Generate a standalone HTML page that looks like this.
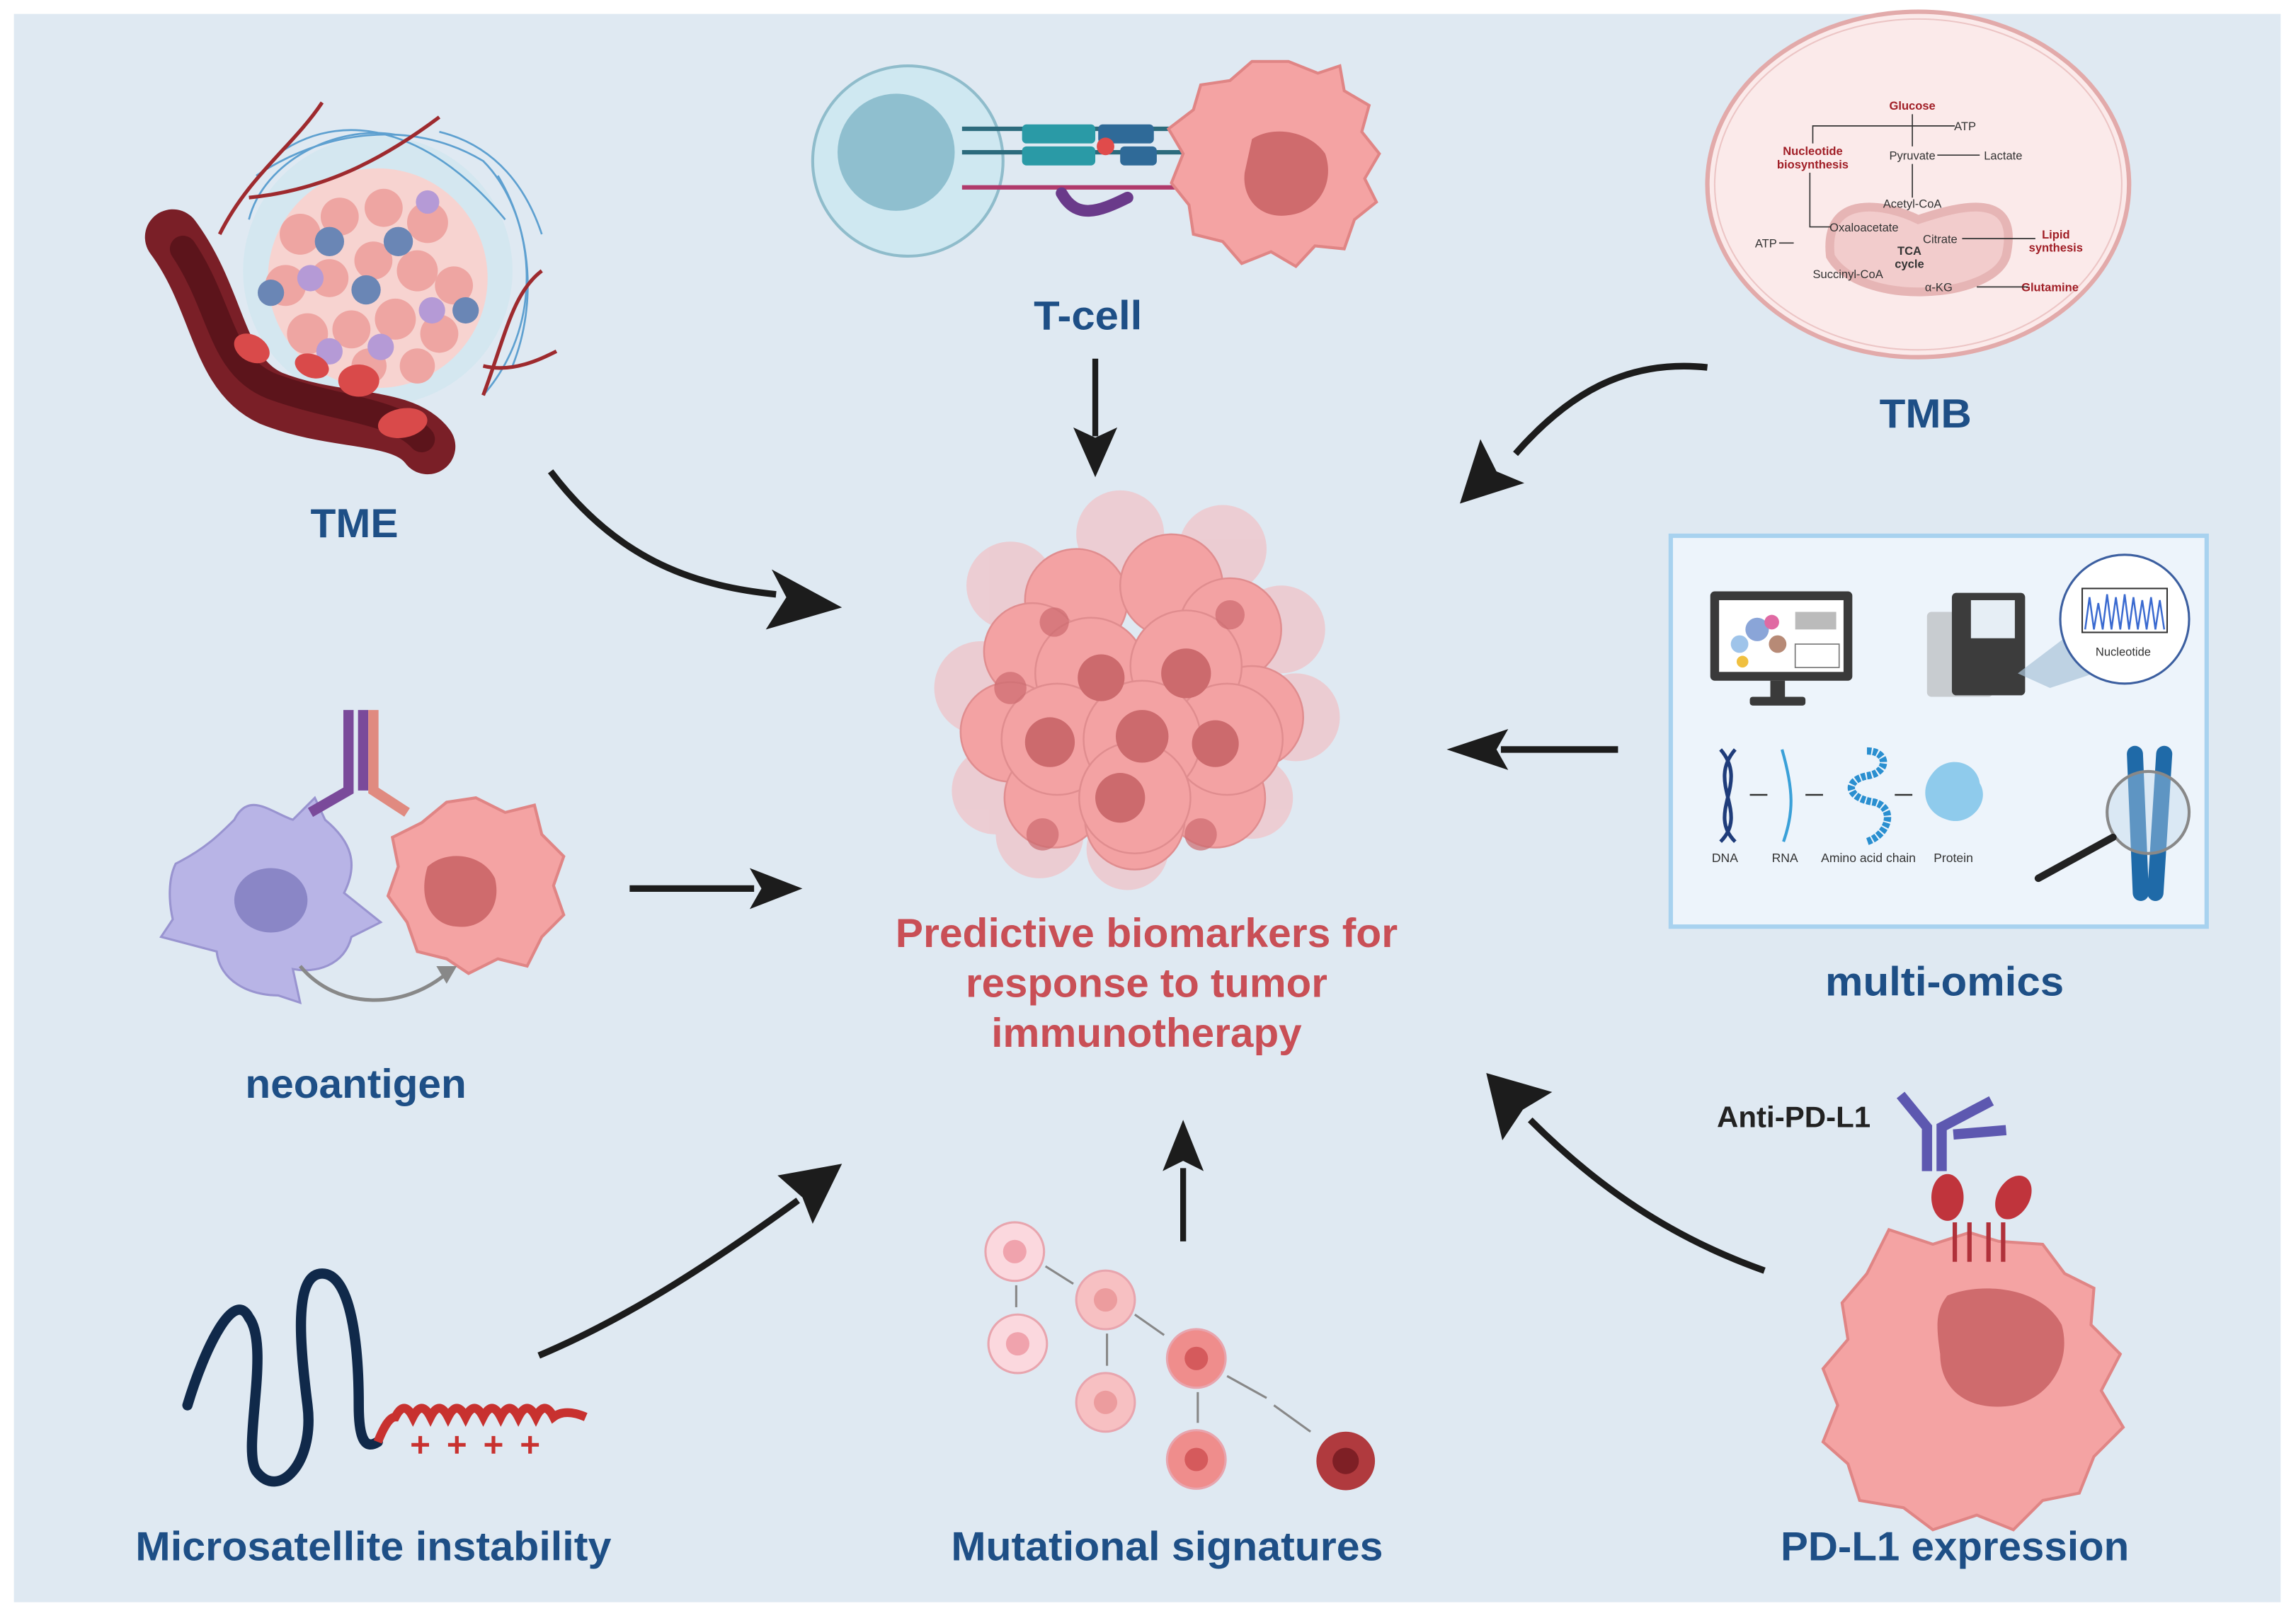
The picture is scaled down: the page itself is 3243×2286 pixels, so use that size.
<!DOCTYPE html>
<html><head><meta charset="utf-8"><style>
html,body{margin:0;padding:0;background:#fff}
svg{display:block}
text{font-family:"Liberation Sans",Arial,sans-serif}
</style></head><body>
<svg width="3243" height="2286" viewBox="0 0 1568 1105.3" preserveAspectRatio="none" xmlns="http://www.w3.org/2000/svg">
<rect x="0" y="0" width="1568" height="1106" fill="#fff"/>
<rect x="9.5" y="9.5" width="1548" height="1085" fill="#dfe9f2"/>

<!-- TME -->
<g>
<circle cx="258" cy="185" r="92" fill="#cfe6f0" opacity="0.7"/>
<g stroke="#3f8fc8" stroke-width="1.3" fill="none" opacity="0.8">
<path d="M175,120 C220,90 280,80 330,110 C360,140 370,200 350,250"/>
<path d="M190,105 C240,70 300,95 345,150"/>
<path d="M170,150 C180,110 230,85 270,92"/>
<path d="M340,120 C370,170 365,230 330,270"/>
<path d="M300,90 C340,100 360,130 370,160"/>
</g>
<circle cx="258" cy="190" r="75" fill="#f7d3d0"/>
<g fill="#eea5a2">
<circle cx="205" cy="160" r="14"/><circle cx="232" cy="148" r="13"/><circle cx="262" cy="142" r="13"/><circle cx="292" cy="152" r="14"/>
<circle cx="195" cy="195" r="14"/><circle cx="225" cy="190" r="13"/><circle cx="255" cy="178" r="13"/><circle cx="285" cy="185" r="14"/><circle cx="310" cy="195" r="13"/>
<circle cx="210" cy="228" r="14"/><circle cx="240" cy="225" r="13"/><circle cx="270" cy="218" r="14"/><circle cx="300" cy="228" r="13"/>
<circle cx="252" cy="250" r="12"/><circle cx="285" cy="250" r="12"/>
</g>
<g fill="#6a86b5"><circle cx="225" cy="165" r="10"/><circle cx="272" cy="165" r="10"/><circle cx="185" cy="200" r="9"/><circle cx="250" cy="198" r="10"/><circle cx="318" cy="212" r="9"/></g>
<g fill="#b59ad6"><circle cx="212" cy="190" r="9"/><circle cx="292" cy="138" r="8"/><circle cx="295" cy="212" r="9"/><circle cx="225" cy="240" r="9"/><circle cx="260" cy="237" r="9"/></g>
<g stroke="#9e2a2e" stroke-width="2.5" fill="none">
<path d="M150,160 C170,120 200,100 220,70"/><path d="M170,135 C220,130 260,110 300,80"/>
<path d="M330,270 C345,230 350,200 370,185"/><path d="M330,250 C350,255 370,245 380,240"/>
</g>
<path d="M118,162 C150,205 148,255 185,272 C230,290 275,282 292,305" stroke="#7a1f27" stroke-width="38" fill="none" stroke-linecap="round"/>
<path d="M125,170 C152,210 150,250 186,264 C230,280 270,280 288,300" stroke="#5c141b" stroke-width="18" fill="none" stroke-linecap="round"/>
<g fill="#d94a4a"><ellipse cx="172" cy="238" rx="13" ry="9" transform="rotate(30 172 238)"/><ellipse cx="213" cy="250" rx="12" ry="8" transform="rotate(20 213 250)"/><ellipse cx="245" cy="260" rx="14" ry="11"/><ellipse cx="275" cy="289" rx="17" ry="10" transform="rotate(-10 275 289)"/></g>
</g>
<text x="242" y="367" font-size="28" font-weight="bold" fill="#1e4f86" text-anchor="middle" textLength="60" lengthAdjust="spacingAndGlyphs">TME</text>

<!-- T-cell -->
<circle cx="620" cy="110" r="65" fill="#cfe8f1" stroke="#8fbccb" stroke-width="2"/>
<circle cx="612" cy="104" r="40" fill="#8fbfcf"/>
<line x1="657" y1="88" x2="820" y2="88" stroke="#2c6b7d" stroke-width="3"/>
<line x1="657" y1="104" x2="820" y2="104" stroke="#2c6b7d" stroke-width="3"/>
<rect x="698" y="85" width="50" height="13" rx="3" fill="#2a9aa6"/><rect x="698" y="100" width="50" height="13" rx="3" fill="#2a9aa6"/>
<rect x="750" y="85" width="38" height="13" rx="3" fill="#2f6a98"/><rect x="765" y="100" width="25" height="13" rx="3" fill="#2f6a98"/>
<circle cx="755" cy="100" r="6" fill="#e04b4b"/>
<line x1="657" y1="128" x2="820" y2="128" stroke="#b03a6b" stroke-width="3"/>
<path d="M725,132 C735,150 750,145 770,135" stroke="#6a3a8a" stroke-width="8" fill="none" stroke-linecap="round"/>
<path d="M880,42 L900,50 915,45 918,62 935,72 930,90 942,105 932,122 940,138 925,150 918,170 898,168 885,182 868,172 848,180 835,165 815,160 812,140 800,125 808,105 798,88 815,75 820,58 840,55 855,42 Z" fill="#f4a3a3" stroke="#e08585" stroke-width="2"/>
<path d="M855,95 C870,85 895,90 905,105 C912,125 900,145 880,147 C860,150 848,135 850,118 Z" fill="#cf6b6d"/>
<text x="743" y="225" font-size="28" font-weight="bold" fill="#1e4f86" text-anchor="middle" textLength="74" lengthAdjust="spacingAndGlyphs">T-cell</text>
<line x1="748" y1="245" x2="748" y2="298" stroke="#1c1c1c" stroke-width="4"/>
<polygon points="748,326 733,292 748,299 763,292" fill="#1c1c1c"/>

<!-- TMB -->
<ellipse cx="1310" cy="126" rx="144" ry="118" fill="#fbeaea" stroke="#e2aaaa" stroke-width="3"/>
<ellipse cx="1310" cy="126" rx="139" ry="113" fill="none" stroke="#ecc5c5" stroke-width="1"/>
<path d="M1250,175 C1245,130 1290,140 1310,150 C1340,140 1380,130 1370,175 C1360,205 1270,210 1250,175 Z" fill="#f2cccc" stroke="#e6b5b5" stroke-width="6"/>
<g font-size="8" fill="#333" text-anchor="middle">
<text x="1306" y="75" fill="#a01e26" font-weight="bold">Glucose</text>
<text x="1342" y="89">ATP</text>
<text x="1238" y="106" fill="#a01e26" font-weight="bold">Nucleotide</text>
<text x="1238" y="115" fill="#a01e26" font-weight="bold">biosynthesis</text>
<text x="1306" y="109">Pyruvate</text>
<text x="1368" y="109">Lactate</text>
<text x="1306" y="142">Acetyl-CoA</text>
<text x="1273" y="158">Oxaloacetate</text>
<text x="1325" y="166">Citrate</text>
<text x="1206" y="169">ATP</text>
<text x="1304" y="174" font-weight="bold">TCA</text>
<text x="1304" y="183" font-weight="bold">cycle</text>
<text x="1404" y="163" fill="#a01e26" font-weight="bold">Lipid</text>
<text x="1404" y="172" fill="#a01e26" font-weight="bold">synthesis</text>
<text x="1262" y="190">Succinyl-CoA</text>
<text x="1324" y="199">α-KG</text>
<text x="1400" y="199" fill="#a01e26" font-weight="bold">Glutamine</text>
</g>
<g stroke="#333" stroke-width="0.8" fill="none">
<path d="M1306,78 V100"/><path d="M1238,98 V86 H1335"/><path d="M1323,106 H1352"/><path d="M1306,112 V135"/>
<path d="M1340,163 H1390"/><path d="M1350,196 H1385"/><path d="M1236,118 V155 H1250"/><path d="M1215,166 H1225"/>
</g>
<text x="1315" y="292" font-size="28" font-weight="bold" fill="#1e4f86" text-anchor="middle" textLength="63" lengthAdjust="spacingAndGlyphs">TMB</text>
<path d="M1166,251 C1110,245 1070,270 1035,310" stroke="#1c1c1c" stroke-width="4.5" fill="none"/>
<polygon points="997,344 1011,300 1022,322 1041,330" fill="#1c1c1c"/>

<!-- multi-omics -->
<rect x="1141" y="366" width="366" height="267" fill="#edf4fb" stroke="#a8d2ef" stroke-width="3"/>
<rect x="1168" y="404" width="97" height="61" rx="3" fill="#3a3a3a"/>
<rect x="1174" y="410" width="85" height="49" fill="#fff"/>
<g fill="#8aa5d8"><circle cx="1200" cy="430" r="8"/><circle cx="1188" cy="440" r="6" fill="#9fc4ea"/><circle cx="1214" cy="440" r="6" fill="#b78a76"/><circle cx="1210" cy="425" r="5" fill="#e06aa3"/><circle cx="1190" cy="452" r="4" fill="#f0c040"/></g>
<rect x="1226" y="418" width="28" height="12" fill="#bbb"/><rect x="1226" y="440" width="30" height="16" fill="#fff" stroke="#777" stroke-width="0.8"/>
<rect x="1209" y="465" width="10" height="12" fill="#3a3a3a"/><rect x="1195" y="476" width="38" height="6" rx="2" fill="#3a3a3a"/>
<rect x="1316" y="418" width="45" height="58" rx="3" fill="#c8ccd0"/>
<rect x="1333" y="405" width="50" height="70" rx="3" fill="#3c3c3c"/>
<rect x="1346" y="410" width="30" height="26" fill="#e6eef5"/>
<polygon points="1378,460 1415,432 1445,455 1400,470" fill="#a9c3d8" opacity="0.7"/>
<circle cx="1451" cy="423" r="44" fill="#fff" stroke="#3c5fa0" stroke-width="1.5"/>
<rect x="1422" y="402" width="58" height="30" fill="#fff" stroke="#333" stroke-width="1"/>
<path d="M1424,430 l3,-22 l3,22 l3,-18 l3,18 l3,-24 l3,24 l3,-22 l3,22 l3,-24 l3,24 l3,-22 l3,22 l3,-20 l3,20 l3,-22 l3,22 l3,-20 l3,20" stroke="#3a6ad0" stroke-width="1.2" fill="none"/>
<text x="1450" y="448" font-size="8" fill="#333" text-anchor="middle">Nucleotide</text>
<path d="M1175,512 C1195,535 1165,555 1185,575 M1185,512 C1165,535 1195,555 1175,575" stroke="#1f3c7a" stroke-width="2.5" fill="none"/>
<path d="M1217,512 C1225,540 1225,555 1218,575" stroke="#3aa0d8" stroke-width="2" fill="none"/>
<path d="M1275,513 C1290,513 1290,528 1275,530 C1260,533 1260,545 1280,548 C1295,552 1290,570 1275,575" stroke="#2a8fd0" stroke-width="5" fill="none" stroke-dasharray="3 1"/>
<path d="M1320,528 C1330,515 1350,520 1352,535 C1360,548 1345,565 1330,560 C1315,556 1310,540 1320,528 Z" fill="#8fcbec"/>
<g stroke="#333" stroke-width="1.2"><line x1="1195" y1="543" x2="1207" y2="543"/><line x1="1233" y1="543" x2="1245" y2="543"/><line x1="1294" y1="543" x2="1306" y2="543"/></g>
<g font-size="8.5" fill="#333" text-anchor="middle"><text x="1178" y="589">DNA</text><text x="1219" y="589">RNA</text><text x="1276" y="589">Amino acid chain</text><text x="1334" y="589">Protein</text></g>
<path d="M1458,515 L1462,610 M1478,515 L1472,610" stroke="#1f6aa8" stroke-width="11" stroke-linecap="round"/>
<circle cx="1467" cy="555" r="28" fill="#bfd7ea" fill-opacity="0.4" stroke="#888" stroke-width="2"/>
<line x1="1392" y1="600" x2="1443" y2="572" stroke="#222" stroke-width="5" stroke-linecap="round"/>
<text x="1328" y="680" font-size="28" font-weight="bold" fill="#1e4f86" text-anchor="middle" textLength="163" lengthAdjust="spacingAndGlyphs">multi-omics</text>
<line x1="1105" y1="512" x2="1025" y2="512" stroke="#1c1c1c" stroke-width="4.5"/>
<polygon points="988,512 1030,498 1022,512 1030,526" fill="#1c1c1c"/>

<!-- center tumour -->
<g fill="#efc6cb" opacity="0.8">
<circle cx="765" cy="365" r="30"/><circle cx="835" cy="375" r="30"/><circle cx="690" cy="400" r="30"/><circle cx="875" cy="430" r="30"/>
<circle cx="670" cy="470" r="32"/><circle cx="885" cy="490" r="30"/><circle cx="680" cy="540" r="30"/><circle cx="855" cy="545" r="28"/>
<circle cx="710" cy="570" r="30"/><circle cx="770" cy="580" r="28"/>
</g>
<g fill="#f3a2a3" stroke="#e08d8f" stroke-width="1.2">
<circle cx="735" cy="410" r="35"/><circle cx="800" cy="400" r="35"/><circle cx="705" cy="445" r="33"/><circle cx="840" cy="430" r="35"/>
<circle cx="690" cy="500" r="34"/><circle cx="855" cy="490" r="35"/><circle cx="720" cy="545" r="34"/><circle cx="830" cy="545" r="34"/><circle cx="775" cy="560" r="34"/>
<circle cx="745" cy="460" r="38"/><circle cx="810" cy="455" r="38"/><circle cx="722" cy="505" r="38"/><circle cx="838" cy="505" r="38"/><circle cx="780" cy="505" r="40"/><circle cx="775" cy="545" r="38"/>
</g>
<g fill="#cc6a6d">
<circle cx="752" cy="463" r="16"/><circle cx="810" cy="460" r="17"/><circle cx="717" cy="507" r="17"/><circle cx="780" cy="503" r="18"/><circle cx="830" cy="508" r="16"/><circle cx="765" cy="545" r="17"/>
<circle cx="720" cy="425" r="10" opacity="0.7"/><circle cx="840" cy="420" r="10" opacity="0.7"/><circle cx="690" cy="470" r="11" opacity="0.7"/><circle cx="712" cy="570" r="11" opacity="0.7"/><circle cx="820" cy="570" r="11" opacity="0.7"/>
</g>
<g font-size="28" font-weight="bold" fill="#c94f56" text-anchor="middle">
<text x="783" y="647" textLength="343" lengthAdjust="spacingAndGlyphs">Predictive biomarkers for</text>
<text x="783" y="681" textLength="247" lengthAdjust="spacingAndGlyphs">response to tumor</text>
<text x="783" y="715" textLength="212" lengthAdjust="spacingAndGlyphs">immunotherapy</text>
</g>

<!-- neoantigen -->
<path d="M120,590 C140,580 150,570 160,560 C170,540 185,555 200,560 L215,545 L222,560 C240,575 245,590 235,610 L260,630 L240,640 C235,660 215,665 200,662 L205,685 L190,680 C170,680 150,670 148,650 L110,640 L118,628 C115,615 115,600 120,590 Z" fill="#b8b4e6" stroke="#9994d0" stroke-width="1.5"/>
<ellipse cx="185" cy="615" rx="25" ry="22" fill="#8a86c6"/>
<path d="M238,485 V540 L212,555 M248,485 V540" stroke="#7a4a9a" stroke-width="7" fill="none"/>
<path d="M255,485 V540 L278,555" stroke="#e08a80" stroke-width="7" fill="none"/>
<path d="M325,545 L345,555 365,550 370,570 385,585 378,605 385,625 370,640 360,660 340,655 320,665 305,655 285,650 278,630 265,612 272,592 268,572 288,562 305,548 Z" fill="#f4a3a3" stroke="#e08585" stroke-width="2"/>
<path d="M292,592 C305,580 330,583 338,600 C343,620 330,635 312,633 C295,632 285,615 292,592 Z" fill="#cf6b6d"/>
<path d="M205,660 C230,690 275,690 305,665" stroke="#888" stroke-width="2.5" fill="none"/>
<polygon points="312,660 298,660 305,672" fill="#888"/>
<text x="243" y="750" font-size="28" font-weight="bold" fill="#1e4f86" text-anchor="middle" textLength="151" lengthAdjust="spacingAndGlyphs">neoantigen</text>
<line x1="430" y1="607" x2="515" y2="607" stroke="#1c1c1c" stroke-width="4.5"/>
<polygon points="548,607 512,593 520,607 512,621" fill="#1c1c1c"/>
<path d="M376,322 C420,380 470,400 530,406" stroke="#1c1c1c" stroke-width="4.5" fill="none"/>
<polygon points="575,415 527,389 537,408 523,430" fill="#1c1c1c"/>

<!-- MSI -->
<path d="M128,960 C140,920 160,880 170,900 C185,920 165,990 175,1005 C190,1025 215,1000 210,960 C205,920 200,870 220,870 C240,870 245,920 245,960 C245,985 250,990 258,985" stroke="#10294a" stroke-width="7" fill="none" stroke-linecap="round"/>
<path d="M258,985 C262,975 266,968 270,968 q6,-12 12,0 q6,-12 12,0 q6,-12 12,0 q6,-12 12,0 q6,-12 12,0 q6,-12 12,0 q6,-12 12,0 q6,-12 12,0 q6,-12 12,0 q8,-6 22,0" stroke="#c8312f" stroke-width="6" fill="none"/>
<g stroke="#c8312f" stroke-width="2.5">
<path d="M281,987 h12 M287,981 v12"/><path d="M306,987 h12 M312,981 v12"/><path d="M331,987 h12 M337,981 v12"/><path d="M356,987 h12 M362,981 v12"/>
</g>
<text x="255" y="1066" font-size="28" font-weight="bold" fill="#1e4f86" text-anchor="middle" textLength="325" lengthAdjust="spacingAndGlyphs">Microsatellite instability</text>
<path d="M368,926 C430,900 490,860 545,820" stroke="#1c1c1c" stroke-width="4.5" fill="none"/>
<polygon points="575,795 555,836 548,818 531,803" fill="#1c1c1c"/>

<!-- mutational signatures -->
<g stroke="#e8a5ae" stroke-width="1.5">
<circle cx="693" cy="855" r="20" fill="#fbd8de"/><circle cx="695" cy="918" r="20" fill="#fbd8de"/>
<circle cx="755" cy="888" r="20" fill="#f7c0c2"/><circle cx="755" cy="958" r="20" fill="#f7c0c2"/>
<circle cx="817" cy="928" r="20" fill="#ef8d8c"/><circle cx="817" cy="997" r="20" fill="#ef8d8c"/>
</g>
<g fill="#f0a3ad"><circle cx="693" cy="855" r="8"/><circle cx="695" cy="918" r="8"/></g>
<g fill="#ec9c9e"><circle cx="755" cy="888" r="8"/><circle cx="755" cy="958" r="8"/></g>
<g fill="#d55a5c"><circle cx="817" cy="928" r="8"/><circle cx="817" cy="997" r="8"/></g>
<circle cx="919" cy="998" r="20" fill="#b03a3e"/><circle cx="919" cy="998" r="9" fill="#7e1f25"/>
<g stroke="#888" stroke-width="1.5" fill="#888">
<line x1="694" y1="878" x2="694" y2="893"/><line x1="714" y1="865" x2="733" y2="877"/><line x1="756" y1="911" x2="756" y2="933"/>
<line x1="775" y1="898" x2="795" y2="912"/><line x1="818" y1="951" x2="818" y2="972"/><line x1="838" y1="940" x2="865" y2="955"/><line x1="870" y1="960" x2="895" y2="978"/>
</g>
<text x="797" y="1066" font-size="28" font-weight="bold" fill="#1e4f86" text-anchor="middle" textLength="295" lengthAdjust="spacingAndGlyphs">Mutational signatures</text>
<line x1="808" y1="848" x2="808" y2="798" stroke="#1c1c1c" stroke-width="4"/>
<polygon points="808,765 794,800 808,793 822,800" fill="#1c1c1c"/>

<!-- PD-L1 -->
<path d="M1290,840 L1320,850 1345,842 1365,848 1395,850 1410,870 1430,880 1428,905 1448,925 1435,950 1450,975 1430,995 1420,1020 1395,1025 1375,1045 1350,1035 1320,1045 1300,1030 1270,1025 1262,1000 1245,985 1255,960 1245,935 1262,915 1258,890 1275,870 Z" fill="#f4a3a3" stroke="#e08585" stroke-width="2"/>
<path d="M1330,885 C1355,875 1395,880 1408,905 C1415,930 1400,955 1375,960 C1345,965 1325,950 1325,925 C1322,905 1322,895 1330,885 Z" fill="#cf6b6d"/>
<path d="M1335,862 V835 M1345,862 V835 M1358,862 V835 M1368,862 V835" stroke="#b0313a" stroke-width="3"/>
<ellipse cx="1330" cy="818" rx="11" ry="16" fill="#c0343c"/><ellipse cx="1375" cy="818" rx="11" ry="16" fill="#c0343c" transform="rotate(30 1375 818)"/>
<path d="M1316,800 V770 L1298,748 M1326,800 V770 L1360,752 M1334,775 L1370,772" stroke="#5d58b0" stroke-width="7" fill="none"/>
<text x="1225" y="770" font-size="20" font-weight="bold" fill="#222" text-anchor="middle" textLength="105" lengthAdjust="spacingAndGlyphs">Anti-PD-L1</text>
<text x="1335" y="1066" font-size="28" font-weight="bold" fill="#1e4f86" text-anchor="middle" textLength="238" lengthAdjust="spacingAndGlyphs">PD-L1 expression</text>
<path d="M1205,868 C1140,845 1090,810 1045,765" stroke="#1c1c1c" stroke-width="4.5" fill="none"/>
<polygon points="1015,733 1060,746 1040,758 1026,779" fill="#1c1c1c"/>
</svg>
</body></html>
